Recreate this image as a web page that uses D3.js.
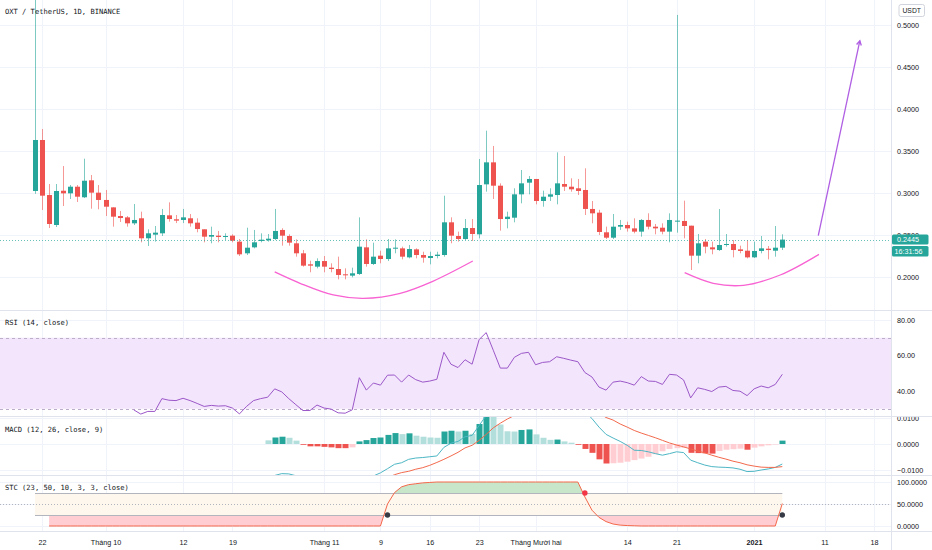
<!DOCTYPE html>
<html>
<head>
<meta charset="utf-8">
<script src="https://cdn.jsdelivr.net/npm/d3@7"></script>
<style>
  body { margin: 0; background: #fff; }
  svg { display: block; }
  .tick text { font-family: "Liberation Sans", Arial, sans-serif; font-size: 7.2px; fill: #131722; }
  .legend { font-family: "DejaVu Sans Mono", monospace; font-size: 7.1px; fill: #131722; }
</style>
</head>
<body>
<div id="plot"></div>
<script>
// OXT / USDT daily, 21 Sep 2020 -> 5 Jan 2021

  const w = 932;
  const h = 550;
  const axisX = 891.5;

  const firstDay = "2020-09-21";

  const open = [0.3024,0.3631,0.2976,0.2619,0.3027,0.2996,0.3075,0.2949,0.3151,0.3004,
    0.2917,0.2829,0.2726,0.2710,0.2639,0.2699,0.2461,0.2504,0.2520,0.2734,
    0.2687,0.2679,0.2699,0.2647,0.2568,0.2480,0.2492,0.2476,0.2492,0.2421,
    0.2282,0.2353,0.2429,0.2437,0.2452,0.2560,0.2488,0.2401,0.2282,0.2151,
    0.2123,0.2190,0.2111,0.2095,0.2032,0.2016,0.2036,0.2353,0.2155,0.2254,
    0.2214,0.2337,0.2341,0.2234,0.2329,0.2262,0.2226,0.2250,0.2262,0.2651,
    0.2488,0.2452,0.2583,0.2508,0.3103,0.3365,0.3087,0.2690,0.2706,0.2984,
    0.3123,0.3167,0.2905,0.2956,0.2976,0.3107,0.3075,0.3056,0.3036,0.2810,
    0.2766,0.2532,0.2468,0.2599,0.2619,0.2579,0.2540,0.2679,0.2599,0.2587,
    0.2540,0.2659,0.2667,0.2611,0.2254,0.2421,0.2353,0.2321,0.2381,0.2393,
    0.2329,0.2313,0.2234,0.2310,0.2337,0.2313,0.2349];

  const high = [0.5400,0.3762,0.3107,0.3107,0.3321,0.3095,0.3095,0.3408,0.3214,0.3095,
    0.3036,0.2830,0.2786,0.2726,0.2869,0.2778,0.2568,0.2607,0.2810,0.2889,
    0.2738,0.2810,0.2750,0.2699,0.2568,0.2599,0.2548,0.2520,0.2508,0.2452,
    0.2587,0.2560,0.2520,0.2512,0.2810,0.2580,0.2508,0.2448,0.2321,0.2194,
    0.2222,0.2250,0.2163,0.2242,0.2103,0.2111,0.2710,0.2448,0.2409,0.2313,
    0.2452,0.2448,0.2361,0.2381,0.2341,0.2301,0.2301,0.2301,0.2968,0.2710,
    0.2540,0.2690,0.2690,0.3405,0.3742,0.3560,0.3115,0.2778,0.3056,0.3274,
    0.3202,0.3167,0.3028,0.3056,0.3484,0.3440,0.3175,0.3167,0.3294,0.2905,
    0.2800,0.2600,0.2750,0.2679,0.2659,0.2698,0.2690,0.2758,0.2631,0.2639,
    0.2758,0.5120,0.2909,0.2611,0.2512,0.2452,0.2421,0.2809,0.2512,0.2440,
    0.2373,0.2440,0.2421,0.2488,0.2369,0.2607,0.2508];

  const low = [0.2990,0.2798,0.2583,0.2595,0.2845,0.2929,0.2893,0.2940,0.2813,0.2806,
    0.2726,0.2599,0.2655,0.2599,0.2619,0.2413,0.2369,0.2421,0.2488,0.2659,
    0.2642,0.2642,0.2599,0.2532,0.2413,0.2401,0.2413,0.2440,0.2413,0.2250,
    0.2262,0.2341,0.2413,0.2421,0.2440,0.2373,0.2373,0.2242,0.2123,0.2056,
    0.2103,0.2056,0.2056,0.1972,0.1972,0.1996,0.2024,0.2123,0.2143,0.2163,
    0.2190,0.2282,0.2210,0.2222,0.2222,0.2171,0.2151,0.2222,0.2242,0.2401,
    0.2421,0.2440,0.2429,0.2460,0.3016,0.2929,0.2552,0.2579,0.2651,0.2877,
    0.2984,0.2865,0.2837,0.2905,0.2865,0.3024,0.3016,0.2976,0.2738,0.2639,
    0.2500,0.2452,0.2452,0.2560,0.2540,0.2520,0.2480,0.2567,0.2508,0.2508,
    0.2413,0.2528,0.2460,0.2083,0.2163,0.2282,0.2270,0.2310,0.2361,0.2234,
    0.2282,0.2222,0.2226,0.2282,0.2210,0.2242,0.2321];

  const close = [0.3631,0.2968,0.2631,0.3024,0.2996,0.3075,0.2956,0.3146,0.3004,0.2917,
    0.2837,0.2718,0.2702,0.2639,0.2679,0.2461,0.2520,0.2528,0.2738,0.2690,
    0.2671,0.2710,0.2639,0.2571,0.2480,0.2500,0.2476,0.2488,0.2432,0.2270,
    0.2349,0.2413,0.2444,0.2456,0.2548,0.2492,0.2409,0.2282,0.2135,0.2135,
    0.2190,0.2123,0.2095,0.2024,0.2020,0.2044,0.2361,0.2155,0.2242,0.2214,
    0.2341,0.2349,0.2242,0.2333,0.2262,0.2230,0.2250,0.2266,0.2651,0.2492,
    0.2452,0.2583,0.2512,0.3095,0.3365,0.3087,0.2690,0.2718,0.2984,0.3115,
    0.3167,0.2905,0.2956,0.2984,0.3115,0.3075,0.3044,0.3024,0.2810,0.2758,
    0.2536,0.2468,0.2599,0.2619,0.2579,0.2540,0.2679,0.2599,0.2579,0.2540,
    0.2679,0.2671,0.2607,0.2254,0.2401,0.2361,0.2329,0.2381,0.2393,0.2321,
    0.2310,0.2234,0.2310,0.2341,0.2321,0.2349,0.2445];

  // RSI(14) from candle 15
  const rsiStart = 15;
  const rsi = [29.4,27.0,28.5,28.5,35.7,34.8,34.6,35.9,34.6,33.0,
    31.3,31.9,31.5,31.7,30.4,27.1,31.3,34.6,35.7,36.5,
    41.2,39.5,35.7,32.3,29.0,29.0,32.1,30.4,29.8,27.7,
    27.5,29.4,47.5,40.5,44.5,43.3,48.9,49.0,45.0,49.0,
    46.4,45.0,45.6,46.6,61.8,55.1,53.2,57.6,55.1,69.0,
    72.9,63.0,52.9,52.9,59.0,61.2,61.8,54.8,56.1,56.5,
    59.3,58.4,57.4,56.5,50.4,47.9,42.2,40.5,45.0,45.6,
    44.7,43.3,48.1,45.6,45.4,43.7,49.4,49.0,46.2,36.1,
    41.8,40.9,39.7,42.2,42.6,40.3,39.9,37.4,41.2,42.8,
    41.8,43.7,49.4];

  // MACD(12, 26, 9) from candle 34
  const macdStart = 34;
  const macdLine = [-0.0128,-0.0121,-0.0114,-0.0115,-0.0122,-0.0131,-0.0140,-0.0145,-0.0150,-0.0155,
    -0.0160,-0.0163,-0.0162,-0.0140,-0.0134,-0.0123,-0.0111,-0.0095,-0.0078,-0.0072,
    -0.0059,-0.0054,-0.0052,-0.0049,-0.0046,-0.0013,0.0003,0.0010,0.0028,0.0033,
    0.0071,0.0110,0.0145,0.0150,0.0148,0.0160,0.0178,0.0190,0.0180,0.0172,
    0.0168,0.0170,0.0165,0.0158,0.0150,0.0125,0.0098,0.0065,0.0037,0.0023,
    0.0010,-0.0005,-0.0024,-0.0025,-0.0030,-0.0037,-0.0043,-0.0037,-0.0030,-0.0033,
    -0.0062,-0.0072,-0.0081,-0.0087,-0.0089,-0.0090,-0.0092,-0.0097,-0.0106,-0.0105,
    -0.0100,-0.0096,-0.0090,-0.0077];
  const signalLine = [-0.0142,-0.0144,-0.0142,-0.0139,-0.0135,-0.0128,-0.0131,-0.0136,-0.0139,-0.0142,
    -0.0144,-0.0147,-0.0149,-0.0150,-0.0149,-0.0146,-0.0136,-0.0130,-0.0118,-0.0110,
    -0.0105,-0.0097,-0.0091,-0.0082,-0.0071,-0.0059,-0.0046,-0.0032,-0.0015,-0.0005,
    0.0014,0.0037,0.0062,0.0080,0.0096,0.0110,0.0122,0.0134,0.0143,0.0148,
    0.0152,0.0154,0.0155,0.0154,0.0152,0.0145,0.0132,0.0118,0.0102,0.0092,
    0.0077,0.0065,0.0052,0.0042,0.0033,0.0024,0.0014,0.0004,-0.0004,-0.0011,
    -0.0019,-0.0027,-0.0034,-0.0043,-0.0051,-0.0058,-0.0066,-0.0072,-0.0080,-0.0085,
    -0.0089,-0.0090,-0.0090,-0.0087];
  const macdHist = [0.0014,0.0025,0.0028,0.0024,0.0013,-0.0003,-0.0009,-0.0009,-0.0011,-0.0013,
    -0.0016,-0.0016,-0.0013,0.0010,0.0015,0.0023,0.0025,0.0035,0.0042,0.0038,
    0.0041,0.0032,0.0028,0.0025,0.0024,0.0048,0.0051,0.0048,0.0051,0.0039,
    0.0077,0.0118,0.0105,0.0075,0.0049,0.0048,0.0054,0.0056,0.0037,0.0024,
    0.0016,0.0017,0.0010,0.0005,-0.0003,-0.0019,-0.0034,-0.0059,-0.0075,-0.0074,
    -0.0072,-0.0068,-0.0062,-0.0056,-0.0049,-0.0039,-0.0028,-0.0019,-0.0016,-0.0015,
    -0.0034,-0.0035,-0.0036,-0.0037,-0.0027,-0.0022,-0.0020,-0.0018,-0.0022,-0.0014,
    -0.0009,-0.0005,-0.0002,0.0013];

  // STC(23, 50, 10, 3, 3) from candle 3
  const stcStart = 3;
  const stc = [0,0,0,0,0,0,0,0,0,0,0,0,
    0,0,0,0,0,0,0,0,0,0,0,0,
    0,0,0,0,0,0,0,0,0,0,0,0,
    0,0,0,0,0,0,0,0,0,0,0,0,
    50,76,89,94,96,98,99,
    100,100,100,100,100,100,100,100,100,100,100,100,100,100,100,100,100,100,100,100,100,
    66,36,19.5,10,4.5,2,1,0.5,
    0,0,0,0,0,0,0,0,0,0,0,0,0,0,0,0,0,0,0,0,
    51];
  const stcCrossCandle = [51, 79, 107];
  const stcCrossLevel = [25, 75, 25];
  const stcCrossColor = ["#363a45", "#f23645", "#363a45"];

  const priceTicks = [0.2, 0.25, 0.3, 0.35, 0.4, 0.45, 0.5];
  const rsiTicks = [40, 60, 80];
  const macdTicks = [-0.01, 0, 0.01];
  const stcTicks = [0, 50, 100];
  const dateTicks = ["2020-09-22","2020-10-01","2020-10-12","2020-10-19","2020-11-01","2020-11-09","2020-11-16",
    "2020-11-23","2020-12-01","2020-12-14","2020-12-21","2021-01-01","2021-01-11","2021-01-18"];
  const dateLabels = ["22","Tháng 10","12","19","Tháng 11","9","16","23","Tháng Mười hai","14","21","2021","11","18"];

  // drawings: [candle number, price]
  const arcOne = [[35,0.2060],[38.6,0.1925],[43.3,0.1786],[47.6,0.1746],[52.8,0.1806],[57.5,0.1952],[63.1,0.2190]];
  const arcTwo = [[93.15,0.2051],[97.2,0.1925],[101.5,0.1901],[106.7,0.2024],[112.2,0.2270]];
  const arrowLine = [[112.1,0.2492],[118.0,0.4813]];

  const lastPrice = 0.2445;
  const countdown = "16:31:56";

// scales

  const start = new Date(firstDay);
  const days = d3.utcDay.range(start, d3.utcDay.offset(start, close.length));
  const candles = days.map((d, k) => ({date: d, o: open[k], h: high[k], l: low[k], c: close[k]}));

  const x = d3.scaleUtc()
      .domain([start, new Date("2021-01-18")])
      .range([35, 35 + 119 * 7.05]);
  const xAt = t => x(new Date(start.getTime() + (t - 1) * 864e5));

  const panes = {
    main: {top: 0, bottom: 310},
    rsi: {top: 311, bottom: 416},
    macd: {top: 417, bottom: 475},
    stc: {top: 476, bottom: 531}
  };

  const yP = d3.scaleLinear().domain([0.2, 0.5]).range([277, 25]);
  const yR = d3.scaleLinear().domain([40, 80]).range([391, 320]);
  const yM = d3.scaleLinear().domain([-0.01, 0.01]).range([470, 418]);
  const yS = d3.scaleLinear().domain([0, 100]).range([526, 482]);

// svg

  const svg = d3.select("#plot")
    .append("svg")
      .attr("width", w)
      .attr("height", h);

  svg.append("rect").attr("width", w).attr("height", h).attr("fill", "#ffffff");

  const defs = svg.append("defs");
  function clip(id, x0, y0, x1, y1) {
    defs.append("clipPath").attr("id", id)
      .append("rect").attr("x", x0).attr("y", y0).attr("width", x1 - x0).attr("height", y1 - y0);
  }
  Object.entries(panes).forEach(([k, p]) => {
    clip("c-" + k, 0, p.top, axisX, p.bottom);
    clip("a-" + k, axisX, p.top, w, p.bottom);
  });
  clip("stc-up", 0, panes.stc.top, axisX, yS(75));
  clip("stc-down", 0, yS(25), axisX, panes.stc.bottom);

// grid

  const grid = svg.append("g").attr("stroke", "#f0f3fa").attr("stroke-width", 1);
  dateTicks.forEach(s => {
    grid.append("line").attr("x1", Math.round(x(new Date(s))) + 0.5).attr("x2", Math.round(x(new Date(s))) + 0.5)
      .attr("y1", 0).attr("y2", panes.stc.bottom);
  });
  [[priceTicks, yP], [rsiTicks, yR], [macdTicks, yM], [stcTicks, yS]].forEach(([ticks, s]) => {
    ticks.forEach(t => grid.append("line").attr("x1", 0).attr("x2", axisX)
      .attr("y1", Math.round(s(t)) + 0.5).attr("y2", Math.round(s(t)) + 0.5));
  });

// main pane: candles

  const main = svg.append("g").attr("clip-path", "url(#c-main)");
  const up = "#26a69a", down = "#ef5350";

  main.selectAll("line.wick")
    .data(candles)
    .enter().append("line")
      .attr("class", "wick")
      .attr("x1", d => Math.round(x(d.date)) + 0.5)
      .attr("x2", d => Math.round(x(d.date)) + 0.5)
      .attr("y1", d => yP(d.h))
      .attr("y2", d => yP(d.l))
      .attr("stroke", d => d.c >= d.o ? up : down)
      .attr("stroke-opacity", 0.6);

  main.selectAll("rect.body")
    .data(candles)
    .enter().append("rect")
      .attr("class", "body")
      .attr("x", d => Math.round(x(d.date)) - 2)
      .attr("width", 5)
      .attr("y", d => yP(Math.max(d.o, d.c)))
      .attr("height", d => Math.max(1, Math.abs(yP(d.o) - yP(d.c))))
      .attr("fill", d => d.c >= d.o ? up : down);

  main.append("line")
      .attr("x1", 0).attr("x2", axisX)
      .attr("y1", Math.round(yP(lastPrice)) + 0.5).attr("y2", Math.round(yP(lastPrice)) + 0.5)
      .attr("stroke", up).attr("stroke-opacity", 0.7)
      .attr("stroke-dasharray", "1,2");

  const drawLine = d3.line().x(d => xAt(d[0])).y(d => yP(d[1])).curve(d3.curveCatmullRom);
  [arcOne, arcTwo].forEach(a => {
    main.append("path").attr("d", drawLine(a))
      .attr("fill", "none").attr("stroke", "#f862d2").attr("stroke-width", 1.3);
  });
  const p1 = [xAt(arrowLine[0][0]), yP(arrowLine[0][1])];
  const p2 = [xAt(arrowLine[1][0]), yP(arrowLine[1][1])];
  const ang = Math.atan2(p2[1] - p1[1], p2[0] - p1[0]);
  main.append("line").attr("x1", p1[0]).attr("y1", p1[1]).attr("x2", p2[0]).attr("y2", p2[1])
    .attr("stroke", "#b05fe3").attr("stroke-width", 1.3);
  main.append("path")
    .attr("d", d3.line()([[p2[0] - 5 * Math.cos(ang - 0.5), p2[1] - 5 * Math.sin(ang - 0.5)], p2,
                          [p2[0] - 5 * Math.cos(ang + 0.5), p2[1] - 5 * Math.sin(ang + 0.5)]]))
    .attr("fill", "none").attr("stroke", "#b05fe3").attr("stroke-width", 1.3);

// RSI pane

  const rsiG = svg.append("g").attr("clip-path", "url(#c-rsi)");
  rsiG.append("rect").attr("x", 0).attr("width", axisX)
    .attr("y", yR(70)).attr("height", yR(30) - yR(70)).attr("fill", "#f3e6fc");
  [70, 30].forEach(v => rsiG.append("line").attr("x1", 0).attr("x2", axisX)
    .attr("y1", Math.round(yR(v)) + 0.5).attr("y2", Math.round(yR(v)) + 0.5)
    .attr("stroke", "#bcaecb").attr("stroke-dasharray", "3,3"));
  rsiG.append("path")
    .datum(rsi)
    .attr("d", d3.line().x((d, k) => xAt(rsiStart + k)).y(d => yR(d)))
    .attr("fill", "none").attr("stroke", "#9b57c8").attr("stroke-width", 1);

// MACD pane

  const macdG = svg.append("g").attr("clip-path", "url(#c-macd)");
  macdG.selectAll("rect")
    .data(macdHist)
    .enter().append("rect")
      .attr("x", (d, k) => Math.round(xAt(macdStart + k)) - 2.5)
      .attr("width", 6)
      .attr("y", d => Math.min(yM(0), yM(d)))
      .attr("height", d => Math.abs(yM(d) - yM(0)))
      .attr("fill", (d, k) => {
        const prev = k > 0 ? macdHist[k - 1] : Infinity;
        if (d >= 0) return d > prev ? "#26a69a" : "#b2dfdb";
        return d > prev ? "#ffcdd2" : "#ef5350";
      });
  const macdPath = d3.line().x((d, k) => xAt(macdStart + k)).y(d => yM(d));
  macdG.append("path").attr("d", macdPath(macdLine))
    .attr("fill", "none").attr("stroke", "#4db6c4").attr("stroke-width", 1);
  macdG.append("path").attr("d", macdPath(signalLine))
    .attr("fill", "none").attr("stroke", "#f2694c").attr("stroke-width", 1);

// STC pane

  const stcG = svg.append("g").attr("clip-path", "url(#c-stc)");
  stcG.append("rect").attr("x", xAt(1)).attr("width", xAt(close.length) - xAt(1))
    .attr("y", yS(75)).attr("height", yS(25) - yS(75)).attr("fill", "#fdf7ee");
  stcG.append("line").attr("x1", 0).attr("x2", axisX)
    .attr("y1", Math.round(yS(50)) + 0.5).attr("y2", Math.round(yS(50)) + 0.5)
    .attr("stroke", "#b2b5be").attr("stroke-dasharray", "1,2");
  const stcArea = base => d3.area().x((d, k) => xAt(stcStart + k)).y0(yS(base)).y1(d => yS(d));
  stcG.append("path").attr("d", stcArea(75)(stc)).attr("fill", "#c8e6c9").attr("clip-path", "url(#stc-up)");
  stcG.append("path").attr("d", stcArea(25)(stc)).attr("fill", "#ffcdd2").attr("clip-path", "url(#stc-down)");
  [75, 25].forEach(v => stcG.append("line").attr("x1", xAt(1)).attr("x2", xAt(close.length))
    .attr("y1", Math.round(yS(v)) + 0.5).attr("y2", Math.round(yS(v)) + 0.5)
    .attr("stroke", "#b2b5be"));
  stcG.append("path")
    .datum(stc)
    .attr("d", d3.line().x((d, k) => xAt(stcStart + k)).y(d => yS(d)))
    .attr("fill", "none").attr("stroke", "#f4674a").attr("stroke-width", 1);
  stcCrossCandle.forEach((c, k) => {
    stcG.append("circle").attr("cx", xAt(c)).attr("cy", yS(stcCrossLevel[k])).attr("r", 2.7)
      .attr("fill", stcCrossColor[k]);
  });

// axes (outer group carries the clip, inner group the shift)

  function rightAxis(scale, ticks, fmt, pane) {
    const g = svg.append("g")
        .attr("clip-path", `url(#a-${pane})`)
      .append("g")
        .attr("transform", `translate(${axisX}, 0)`)
        .call(d3.axisRight(scale).tickValues(ticks).tickFormat(fmt).tickSize(0).tickPadding(5.5));
    g.select(".domain").remove();
    return g;
  }
  rightAxis(yP, priceTicks, d3.format(".4f"), "main");
  rightAxis(yR, rsiTicks, d3.format(".2f"), "rsi");
  rightAxis(yM, macdTicks, d3.format(".4f"), "macd");
  rightAxis(yS, stcTicks, d3.format(".4f"), "stc");

  const xg = svg.append("g")
      .attr("transform", `translate(0, ${panes.stc.bottom})`)
      .call(d3.axisBottom(x).tickValues(dateTicks.map(s => new Date(s)))
        .tickFormat((d, k) => dateLabels[k]).tickSize(0).tickPadding(8.5));
  xg.select(".domain").remove();
  xg.selectAll("text").filter((d, k) => dateLabels[k] === "2021").attr("font-weight", "bold");

// separators

  const sep = svg.append("g").attr("stroke", "#e0e3eb");
  [panes.main.bottom, panes.rsi.bottom, panes.macd.bottom, panes.stc.bottom].forEach(y => {
    sep.append("line").attr("x1", 0).attr("x2", w).attr("y1", y + 0.5).attr("y2", y + 0.5);
  });
  sep.append("line").attr("x1", axisX).attr("x2", axisX).attr("y1", 0).attr("y2", h);

// price tags

  const py = yP(lastPrice);
  svg.append("rect").attr("x", axisX + 0.5).attr("y", py - 5).attr("width", 36.5).attr("height", 10)
    .attr("rx", 1.5).attr("fill", up);
  svg.append("text").attr("x", 897).attr("y", py).attr("dy", "0.35em")
    .style("font-family", "Liberation Sans, Arial, sans-serif").style("font-size", "7.2px")
    .attr("fill", "#ffffff").text(d3.format(".4f")(lastPrice));
  svg.append("rect").attr("x", axisX + 0.5).attr("y", py + 6.5).attr("width", 36.5).attr("height", 10.5)
    .attr("rx", 1.5).attr("fill", up);
  svg.append("text").attr("x", 894.5).attr("y", py + 11.8).attr("dy", "0.35em")
    .style("font-family", "Liberation Sans, Arial, sans-serif").style("font-size", "7.2px")
    .attr("fill", "#ffffff").text(countdown);

  svg.append("rect").attr("x", 899).attr("y", 4.5).attr("width", 25.5).attr("height", 12)
    .attr("rx", 2).attr("fill", "#ffffff").attr("stroke", "#d1d4dc");
  svg.append("text").attr("x", 911.7).attr("y", 10.5).attr("dy", "0.35em").attr("text-anchor", "middle")
    .style("font-family", "Liberation Sans, Arial, sans-serif").style("font-size", "6.8px")
    .attr("fill", "#131722").text("USDT");

// legends

  svg.append("text").attr("class", "legend").attr("x", 5).attr("y", 14.3).text("OXT / TetherUS, 1D, BINANCE");
  svg.append("text").attr("class", "legend").attr("x", 5).attr("y", 325).text("RSI (14, close)");
  svg.append("text").attr("class", "legend").attr("x", 5).attr("y", 431.5).text("MACD (12, 26, close, 9)");
  svg.append("text").attr("class", "legend").attr("x", 5).attr("y", 489.5).text("STC (23, 50, 10, 3, 3, close)");
</script>
</body>
</html>
